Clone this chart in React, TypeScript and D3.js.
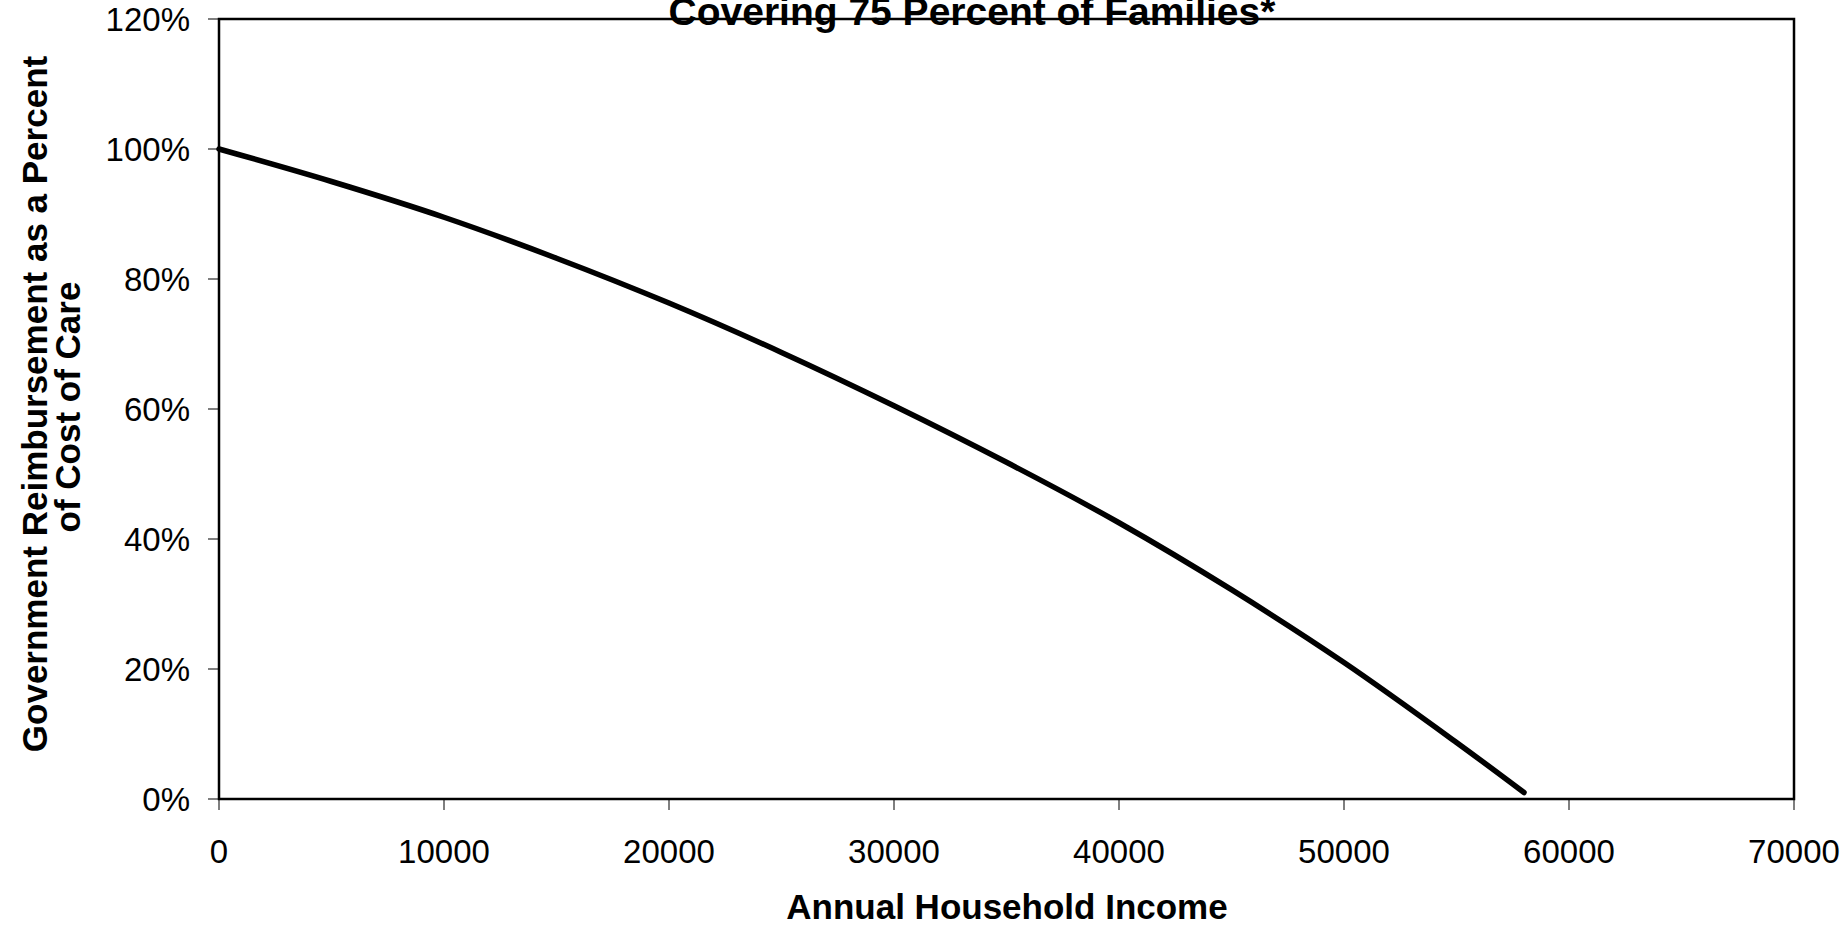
import React from "react";
import * as d3 from "d3";

const incomes = [0, 5000, 10000, 15000, 20000, 25000, 30000, 35000, 40000, 45000, 50000, 55000, 58000];
const reimbursement = [1.0, 0.95, 0.895, 0.832, 0.763, 0.687, 0.605, 0.518, 0.425, 0.322, 0.21, 0.087, 0.01];
const xTicks = [0, 10000, 20000, 30000, 40000, 50000, 60000, 70000];
const yTicks = [0, 0.2, 0.4, 0.6, 0.8, 1.0, 1.2];
const titleText = "Covering 75 Percent of Families*";
const xLabel = "Annual Household Income";
const yLabelLines = ["Government Reimbursement as a Percent", "of Cost of Care"];

const W = 1848;
const H = 925;
const left = 219;
const right = 1794;
const top = 19;
const bottom = 799;
const FONT = "'Liberation Sans', Arial, sans-serif";

export default function App() {
  const x = d3.scaleLinear().domain([0, 70000]).range([left, right]);
  const y = d3.scaleLinear().domain([0, 1.2]).range([bottom, top]);
  const pts = incomes.map((v, i) => [v, reimbursement[i]] as [number, number]);
  const line = d3
    .line<[number, number]>()
    .x((d) => x(d[0]))
    .y((d) => y(d[1]))
    .curve(d3.curveCatmullRom.alpha(0.5));

  return (
    <svg
      width={W}
      height={H}
      style={{ position: "absolute", left: 0, top: 0, background: "#fff" }}
      fontFamily={FONT}
    >
      <rect x={0} y={0} width={W} height={H} fill="#fff" />
      {yTicks.map((t) => (
        <line key={"yt" + t} x1={left - 11} x2={left} y1={y(t)} y2={y(t)} stroke="#555" strokeWidth={1.5} />
      ))}
      {xTicks.map((t) => (
        <line key={"xt" + t} x1={x(t)} x2={x(t)} y1={bottom} y2={bottom + 11} stroke="#555" strokeWidth={1.5} />
      ))}
      <rect x={left} y={top} width={right - left} height={bottom - top} fill="none" stroke="#000" strokeWidth={2.5} />
      <path d={line(pts) || ""} fill="none" stroke="#000" strokeWidth={5.5} strokeLinecap="round" strokeLinejoin="round" />
      {yTicks.map((t) => (
        <text key={"yl" + t} x={190} y={y(t) + 12} textAnchor="end" fontSize={33} fill="#000">
          {Math.round(t * 100) + "%"}
        </text>
      ))}
      {xTicks.map((t) => (
        <text key={"xl" + t} x={x(t)} y={863} textAnchor="middle" fontSize={33} fill="#000">
          {String(t)}
        </text>
      ))}
      <text x={972} y={25} textAnchor="middle" fontSize={39} fontWeight="bold" fill="#000">
        {titleText}
      </text>
      <text x={1007} y={919} textAnchor="middle" fontSize={35} fontWeight="bold" fill="#000">
        {xLabel}
      </text>
      <text transform={`translate(47,404) rotate(-90)`} textAnchor="middle" fontSize={35} fontWeight="bold" fill="#000">
        {yLabelLines[0]}
      </text>
      <text transform={`translate(80,407) rotate(-90)`} textAnchor="middle" fontSize={35} fontWeight="bold" fill="#000">
        {yLabelLines[1]}
      </text>
    </svg>
  );
}
